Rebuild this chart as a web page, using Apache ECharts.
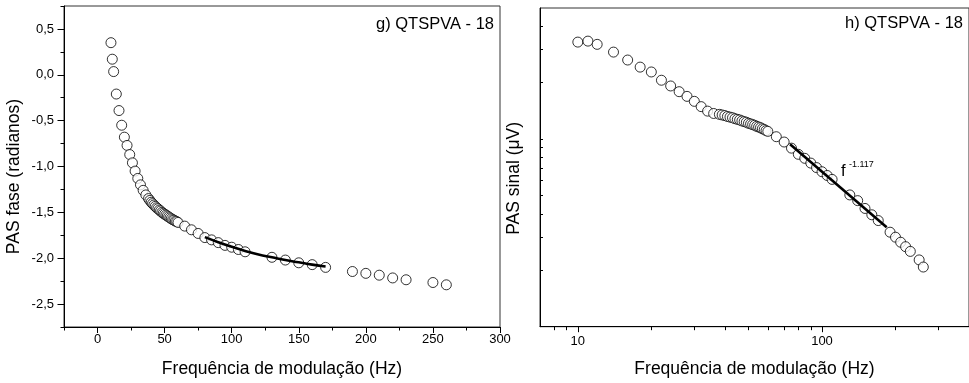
<!DOCTYPE html>
<html><head><meta charset="utf-8">
<script src="https://cdn.jsdelivr.net/npm/echarts@6/dist/echarts.min.js"></script>
<style>html,body{margin:0;padding:0;background:#fff}#c{width:969px;height:383px}</style>
</head><body><div id="c"></div>
<script>
// Modulation frequencies (Hz), shared by both panels
const freq = [10,11,12,14,16,18,20,22,24,26,28,30,32,34,36,
  38,39,40,41,42,43,44,45,46,47,48,49,50,51,52,53,54,55,56,57,58,59,60,
  65,70,75,80,85,90,95,100,105,110,
  130,140,150,160,170,
  190,200,210,220,230,250,260];
// g) PAS phase (radians)
const phase = [0.35,0.17,0.035,-0.21,-0.39,-0.55,-0.68,-0.77,-0.87,-0.96,-1.05,-1.13,-1.20,-1.26,-1.31,
  -1.35,-1.37,-1.39,-1.405,-1.42,-1.435,-1.45,-1.46,-1.475,-1.485,-1.50,-1.51,-1.52,-1.53,-1.54,-1.55,-1.56,-1.57,-1.58,-1.585,-1.595,-1.60,-1.61,
  -1.65,-1.69,-1.73,-1.775,-1.80,-1.83,-1.86,-1.88,-1.905,-1.93,
  -1.99,-2.02,-2.05,-2.07,-2.10,
  -2.145,-2.165,-2.185,-2.215,-2.235,-2.265,-2.29];
// h) PAS signal (arbitrary µV scale)
const signal = [32.9,33.3,32.0,29.1,26.4,24.2,22.8,20.6,19.2,17.9,16.9,15.9,14.9,14.1,13.7,
  13.55,13.45,13.35,13.2,13.1,13.0,12.85,12.75,12.65,12.5,12.4,12.3,12.15,12.05,11.95,11.85,11.7,11.6,11.5,11.35,11.25,11.1,11.0,
  10.3,9.65,8.95,8.3,7.9,7.45,7.05,6.7,6.4,6.1,
  5.04,4.7,4.27,3.95,3.68,
  3.19,3.0,2.82,2.67,2.52,2.27,2.08];
// fitted curves
const phaseFitF = [80,90,100,110,120,130,140,150,160,170];
const phaseFitV = [-1.77,-1.825,-1.875,-1.92,-1.96,-1.99,-2.02,-2.045,-2.07,-2.09];
const signalFitF = [74,184];
const signalFitV = [9.4,3.39];
// tick values
const phaseXLabels = [0,50,100,150,200,250,300];
const phaseYLabels = [0.5,0,-0.5,-1,-1.5,-2,-2.5];
const logXMajor = [10,100];
const logXMinor = [8,9,20,30,40,50,60,70,80,90,200,300];
const logYTicks = [2,3,4,5,6,7,8,9,10,20,30,40];

const FONT = 'Arial, "Liberation Sans", sans-serif';
const txt = {color:'#000', fontFamily: FONT};
const chart = echarts.init(document.getElementById('c'));
const lineSt = {show:true, onZero:false, lineStyle:{color:'#000', width:1}};
const noLine = {show:false, onZero:false};
const sym = {symbol:'circle', symbolSize:10, itemStyle:{color:'#fff', borderColor:'#000', borderWidth:1}};

chart.setOption({
  animation:false,
  backgroundColor:'#fff',
  grid:[
    {left:64, top:6, width:436, height:321.7, show:true, borderColor:'#333', borderWidth:1},
    {left:540, top:8, width:429, height:318.7, show:true, borderColor:'#333', borderWidth:1}
  ],
  xAxis:[
    {gridIndex:0, type:'value', min:-25, max:300, interval:25, position:'bottom',
     axisLine:lineSt, splitLine:{show:false},
     axisTick:{show:true, length:3.5, lineStyle:{color:'#000'}},
     axisLabel:{customValues:phaseXLabels, margin:6, fontSize:13, ...txt},
     name:'Frequência de modulação (Hz)', nameLocation:'middle', nameGap:33,
     nameTextStyle:{fontSize:17.5, ...txt}},
    {gridIndex:0, type:'value', min:-25, max:300, position:'bottom',
     axisLine:noLine, splitLine:{show:false}, axisLabel:{show:false},
     axisTick:{show:true, length:6, customValues:phaseXLabels, lineStyle:{color:'#000'}}},
    {gridIndex:1, type:'log', min:7, max:400, position:'bottom',
     axisLine:lineSt, splitLine:{show:false}, minorTick:{show:false},
     axisTick:{show:true, length:5.5, customValues:logXMajor, lineStyle:{color:'#000'}},
     axisLabel:{customValues:logXMajor, margin:8, fontSize:13, ...txt},
     name:'Frequência de modulação (Hz)', nameLocation:'middle', nameGap:33,
     nameTextStyle:{fontSize:17.5, ...txt}},
    {gridIndex:1, type:'log', min:7, max:400, position:'bottom',
     axisLine:noLine, splitLine:{show:false}, axisLabel:{show:false},
     axisTick:{show:true, length:3.5, customValues:logXMinor, lineStyle:{color:'#000'}}}
  ],
  yAxis:[
    {gridIndex:0, type:'value', min:-2.75, max:0.75, interval:0.25, position:'left',
     axisLine:lineSt, splitLine:{show:false},
     axisTick:{show:true, length:3.5, lineStyle:{color:'#000'}},
     axisLabel:{customValues:phaseYLabels, margin:10, fontSize:13, ...txt,
       formatter:v=>(+v).toFixed(1).replace('.',',')},
     name:'PAS fase (radianos)', nameLocation:'middle', nameGap:41,
     nameTextStyle:{fontSize:17.5, padding:[0,20,0,0], ...txt}},
    {gridIndex:0, type:'value', min:-2.75, max:0.75, position:'left',
     axisLine:noLine, splitLine:{show:false}, axisLabel:{show:false},
     axisTick:{show:true, length:6.5, customValues:phaseYLabels, lineStyle:{color:'#000'}}},
    {gridIndex:1, type:'log', min:1, max:50, position:'left',
     axisLine:lineSt, splitLine:{show:false}, minorTick:{show:false},
     axisTick:{show:true, inside:true, length:3, customValues:logYTicks, lineStyle:{color:'#000'}},
     axisLabel:{show:false},
     name:'PAS sinal (μV)', nameLocation:'middle', nameGap:17,
     nameTextStyle:{fontSize:17.5, padding:[0,22,0,0], ...txt}}
  ],
  series:[
    {type:'scatter', xAxisIndex:0, yAxisIndex:0, ...sym, z:2,
     data:freq.map((f,i)=>[f,phase[i]])},
    {type:'line', xAxisIndex:0, yAxisIndex:0, smooth:true, symbol:'none', z:5,
     lineStyle:{color:'#000', width:2.6},
     data:phaseFitF.map((f,i)=>[f,phaseFitV[i]])},
    {type:'scatter', xAxisIndex:2, yAxisIndex:2, ...sym, z:2,
     data:freq.map((f,i)=>[f,signal[i]])},
    {type:'line', xAxisIndex:2, yAxisIndex:2, symbol:'none', z:5,
     lineStyle:{color:'#000', width:2.6},
     data:signalFitF.map((f,i)=>[f,signalFitV[i]])}
  ],
  graphic:[
    {type:'text', right:969-494, top:16, style:{text:'g) QTSPVA - 18', fontSize:16.5, fontFamily:FONT, fill:'#000'}},
    {type:'text', right:6, top:15, style:{text:'h) QTSPVA - 18', fontSize:16.5, fontFamily:FONT, fill:'#000'}},
    {type:'text', left:841, top:163, style:{text:'f', fontSize:16.5, fontFamily:FONT, fill:'#000'}},
    {type:'text', left:849, top:160, style:{text:'-1.117', fontSize:9, fontFamily:FONT, fill:'#000'}}
  ]
});
</script></body></html>
